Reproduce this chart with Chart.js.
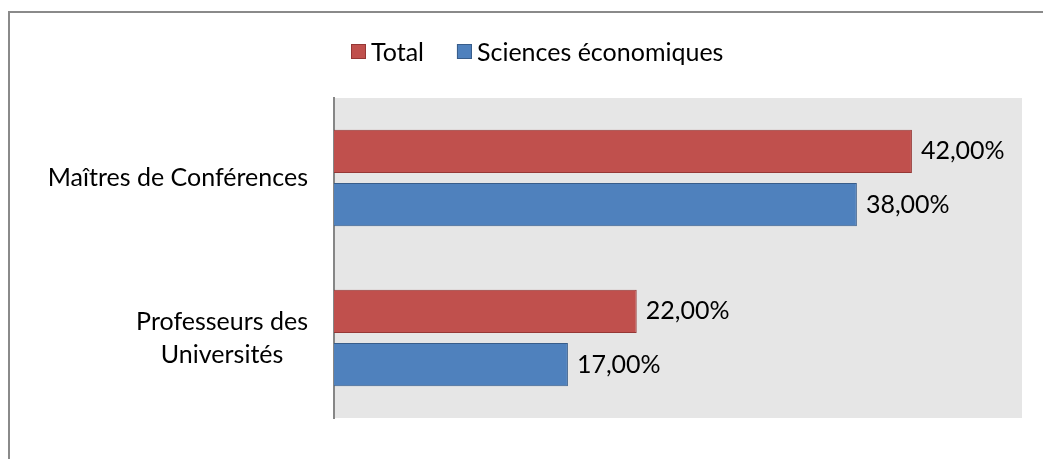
<!DOCTYPE html>
<html>
<head>
<meta charset="utf-8">
<script src="https://cdn.jsdelivr.net/npm/chart.js@4/dist/chart.umd.min.js"></script>
<style>
  html, body { margin: 0; padding: 0; background: #fff; }
  #wrap { width: 1043px; height: 459px; position: relative; }
</style>
</head>
<body>
<div id="wrap"><canvas id="chart"></canvas></div>
<script>
const categories = [["Maîtres de Conférences"], ["Professeurs des", "Universités"]];
const seriesNames = ["Total", "Sciences économiques"];
const totalValues = [42, 22];
const econValues = [38, 17];

const FONT = "Lato, 'DejaVu Sans', sans-serif";
const FONT_SIZE = 25;

function pct(v) {
  return v.toFixed(2).replace(".", ",") + "%";
}

// grey plot background + outer frame
const backdrop = {
  id: "backdrop",
  beforeDraw(chart) {
    const { ctx, chartArea: a } = chart;
    ctx.save();
    ctx.fillStyle = "#E6E6E6";
    ctx.fillRect(a.left, a.top, a.right - a.left, a.bottom - a.top);
    ctx.strokeStyle = "#8A8A8A";
    ctx.lineWidth = 2;
    ctx.strokeRect(9, 12, 1200, 600);
    ctx.restore();
  }
};

// legend, category labels and value labels
const texts = {
  id: "texts",
  afterDraw(chart) {
    const { ctx, chartArea: a } = chart;
    const y = chart.scales.y;
    ctx.save();
    ctx.font = FONT_SIZE + "px " + FONT;
    ctx.fillStyle = "#000";
    ctx.textBaseline = "middle";

    // legend
    let lx = 351;
    chart.data.datasets.forEach((ds, i) => {
      ctx.fillStyle = ds.backgroundColor;
      ctx.fillRect(lx, 44, 15, 15);
      ctx.strokeStyle = ds.borderColor;
      ctx.lineWidth = 1;
      ctx.strokeRect(lx + 0.5, 44.5, 14, 14);
      ctx.fillStyle = "#000";
      ctx.textAlign = "left";
      ctx.fillText(ds.label, lx + 20, 53);
      lx += 20 + ctx.measureText(ds.label).width + 33;
    });

    // category labels, lines centred inside a right-aligned block
    chart.data.labels.forEach((lines, i) => {
      const cy = y.getPixelForValue(i);
      const w = Math.max(...lines.map(l => ctx.measureText(l).width));
      const cx = a.left - 26 - w / 2;
      const lh = 33;
      ctx.textAlign = "center";
      lines.forEach((l, k) => {
        ctx.fillText(l, cx, cy + (k - (lines.length - 1) / 2) * lh);
      });
    });

    // value labels
    ctx.textAlign = "left";
    chart.data.datasets.forEach((ds, i) => {
      chart.getDatasetMeta(i).data.forEach((bar, j) => {
        ctx.fillText(pct(ds.data[j]), bar.x + 9, bar.y);
      });
    });
    ctx.restore();
  }
};

new Chart(document.getElementById("chart"), {
  type: "bar",
  data: {
    labels: categories,
    datasets: [
      {
        label: seriesNames[0],
        data: totalValues,
        backgroundColor: "#C0504D",
        borderColor: "#953735",
        borderWidth: 1
      },
      {
        label: seriesNames[1],
        data: econValues,
        backgroundColor: "#4F81BD",
        borderColor: "#385D8A",
        borderWidth: 1
      }
    ]
  },
  options: {
    indexAxis: "y",
    responsive: true,
    maintainAspectRatio: false,
    animation: false,
    barPercentage: 0.81,
    categoryPercentage: 0.665,
    layout: { padding: { top: 98, right: 21, bottom: 41, left: 0 } },
    plugins: { legend: { display: false }, tooltip: { enabled: false } },
    scales: {
      x: { display: false, min: 0, max: 50 },
      y: {
        grid: { display: false },
        border: { display: true, color: "#868686", width: 2 },
        ticks: { display: false },
        afterFit(scale) { scale.width = 334; }
      }
    }
  },
  plugins: [backdrop, texts]
});
</script>
</body>
</html>
